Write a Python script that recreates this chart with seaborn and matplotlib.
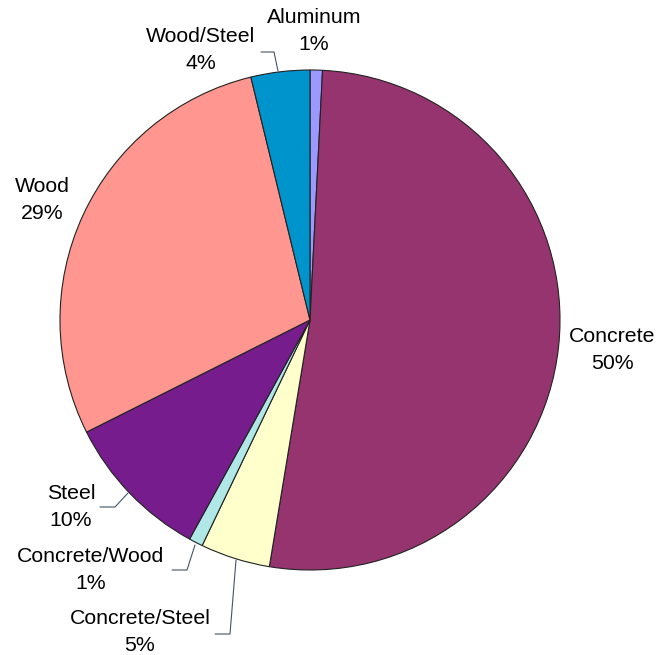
import matplotlib
matplotlib.use("Agg")
import matplotlib.pyplot as plt
import seaborn as sns

# slice data, clockwise from 12 o'clock
materials = ["Aluminum", "Concrete", "Concrete/Steel", "Concrete/Wood",
             "Steel", "Wood", "Wood/Steel"]
shares = [0.8, 51.8, 4.5, 0.9, 9.6, 28.6, 3.8]
pct_labels = ["1%", "50%", "5%", "1%", "10%", "29%", "4%"]
colors = ["#9999FF", "#963470", "#FFFFCC", "#B0E8E8",
          "#761C8C", "#FF9690", "#0094CC"]

sns.set_theme(style="white")
plt.rcParams["font.family"] = ["Liberation Sans", "DejaVu Sans"]

W, H = 658, 655
fig = plt.figure(figsize=(W / 100, H / 100), dpi=100)
ax = fig.add_axes([0, 0, 1, 1])

cx, cy, r = 310, H - 320, 250
ax.pie(shares, colors=colors, startangle=90, counterclock=False,
       center=(cx, cy), radius=r, frame=True,
       wedgeprops=dict(edgecolor="#222222", linewidth=0.8))
ax.set_xlim(0, W)
ax.set_ylim(0, H)
ax.set_aspect("equal")
ax.axis("off")

# label centres (px from top-left) and leader lines
label_pos = {
    "Aluminum": (314, 31),
    "Concrete": (612, 350),
    "Concrete/Steel": (140, 632),
    "Concrete/Wood": (91, 570),
    "Steel": (71, 507),
    "Wood": (42, 200),
    "Wood/Steel": (201, 50),
}
leaders = {
    "Wood/Steel": [(261, 52), (274, 52), (278, 71)],
    "Steel": [(100, 507), (115, 507), (128, 493)],
    "Concrete/Wood": [(172, 570), (187, 570), (195, 545)],
    "Concrete/Steel": [(215, 634), (230, 634), (236, 560)],
}

for name, pct in zip(materials, pct_labels):
    x, y = label_pos[name]
    ax.text(x, H - y, f"{name}\n{pct}", ha="center", va="center",
            fontsize=15.3, color="black", linespacing=1.5)
    if name in leaders:
        pts = leaders[name]
        ax.plot([p[0] for p in pts], [H - p[1] for p in pts],
                color="#445566", lw=0.8)

fig.savefig("out.png", dpi=100)
